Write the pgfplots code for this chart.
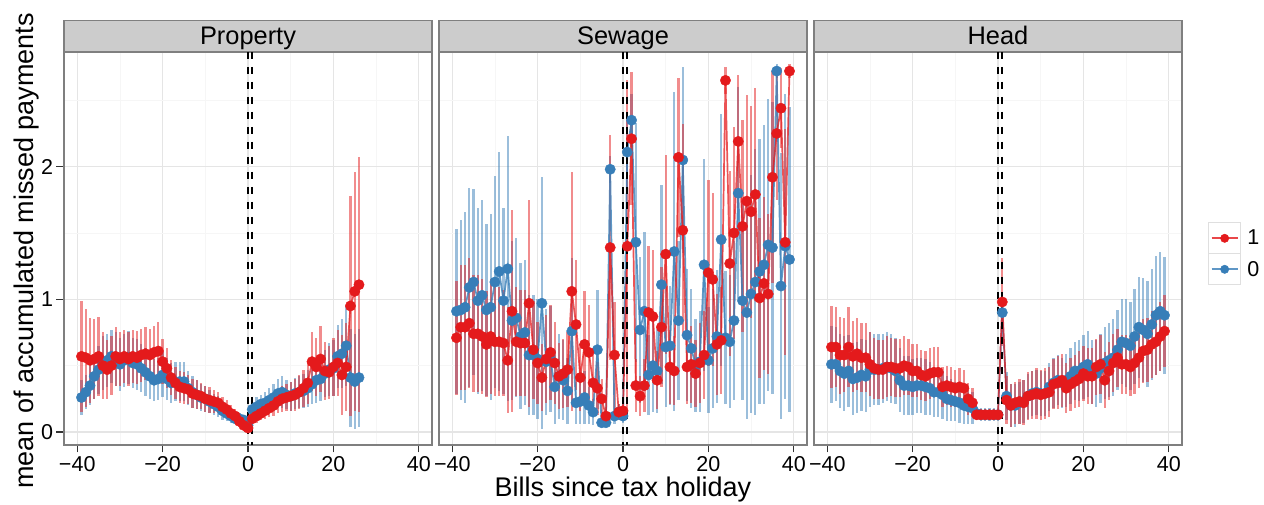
\documentclass[border=0pt]{standalone}
\usepackage{fontspec}
\setmainfont{Liberation Sans}
\usepackage{pgfplots}
\pgfplotsset{compat=1.18}
\usepackage{pgfplotstable}
\definecolor{cR}{HTML}{E41A1C}
\definecolor{cB}{HTML}{377EB8}
\definecolor{gridmaj}{HTML}{E5E5E5}
\definecolor{gridmin}{HTML}{F6F6F6}
\definecolor{bord}{HTML}{7F7F7F}
\definecolor{stripc}{HTML}{CCCCCC}

\pgfplotstableread{
x y e
-39 .57 .42
-38 .56 .37
-37 .54 .32
-36 .55 .30
-35 .57 .30
-34 .50 .25
-33 .47 .22
-32 .50 .22
-31 .57 .22
-30 .55 .20
-29 .57 .20
-28 .55 .20
-27 .57 .20
-26 .56 .20
-25 .58 .20
-24 .59 .20
-23 .58 .20
-22 .60 .20
-21 .61 .22
-20 .53 .17
-19 .48 .15
-18 .41 .13
-17 .37 .12
-16 .34 .12
-15 .33 .12
-14 .32 .11
-13 .29 .11
-12 .28 .11
-11 .27 .10
-10 .25 .10
-9 .24 .10
-8 .23 .09
-7 .22 .08
-6 .19 .07
-5 .17 .07
-4 .14 .06
-3 .12 .05
-2 .08 .04
-1 .05 .03
0 .03 .02
1 .10 .04
2 .12 .05
3 .14 .05
4 .16 .06
5 .18 .07
6 .20 .08
7 .23 .09
8 .25 .10
9 .26 .10
10 .27 .11
11 .28 .12
12 .30 .13
13 .33 .14
14 .37 .16
15 .53 .22
16 .49 .22
17 .55 .25
18 .46 .22
19 .45 .20
20 .49 .22
21 .52 .25
22 .43 .30
23 .49 .33
24 .95 .83
25 1.06 .90
26 1.11 .96
}\propR

\pgfplotstableread{
x y e
-39 .26 .13
-38 .30 .13
-37 .35 .15
-36 .42 .17
-35 .47 .18
-34 .52 .20
-33 .54 .20
-32 .57 .20
-31 .55 .20
-30 .51 .20
-29 .54 .20
-28 .56 .20
-27 .52 .19
-26 .51 .19
-25 .48 .18
-24 .45 .18
-23 .42 .17
-22 .39 .16
-21 .40 .16
-20 .43 .17
-19 .40 .16
-18 .37 .15
-17 .38 .15
-16 .38 .15
-15 .38 .15
-14 .33 .13
-13 .30 .12
-12 .28 .11
-11 .26 .10
-10 .25 .10
-9 .23 .09
-8 .21 .08
-7 .19 .08
-6 .16 .07
-5 .14 .06
-4 .12 .05
-3 .10 .04
-2 .10 .04
-1 .09 .04
0 .05 .02
1 .17 .06
2 .19 .07
3 .21 .07
4 .22 .08
5 .24 .09
6 .26 .10
7 .29 .11
8 .30 .12
9 .28 .11
10 .27 .11
11 .29 .12
12 .30 .12
13 .31 .13
14 .33 .14
15 .36 .15
16 .39 .17
17 .40 .17
18 .44 .18
19 .47 .20
20 .48 .21
21 .57 .24
22 .59 .26
23 .65 .30
24 .41 .37
25 .38 .36
26 .41 .37
}\propB

\pgfplotstableread{
x y e
-39 .71 .43
-38 .79 .47
-37 .79 .47
-36 .82 .49
-35 .74 .44
-34 .74 .44
-33 .72 .43
-32 .66 .40
-31 .72 .43
-30 .68 .41
-29 .68 .41
-28 .67 .40
-27 .54 .40
-26 .91 .76
-25 .68 .41
-24 .67 .40
-23 .67 .40
-22 .97 .78
-21 .62 .37
-20 .52 .31
-19 .41 .25
-18 .55 .33
-17 .60 .36
-16 .52 .31
-15 .42 .25
-14 .44 .26
-13 .47 .28
-12 1.06 .90
-11 .81 .49
-10 .41 .25
-9 .66 .40
-8 .60 .36
-7 .37 .22
-6 .33 .20
-5 .25 .15
-4 .12 .07
-3 1.39 .85
-2 .58 .40
-1 .15 .06
0 .16 .06
1 1.40 1.25
2 2.21 .50
3 .35 .20
4 .27 .15
5 .35 .20
6 .90 .50
7 .87 .50
8 .39 .22
9 .79 .45
10 1.34 .75
11 .49 .28
12 .46 .26
13 2.07 .60
14 1.52 .80
15 .49 .28
16 .51 .29
17 .44 .25
18 .52 .30
19 .58 .33
20 1.20 .70
21 1.15 .65
22 .66 .38
23 .69 .40
24 2.65 .10
25 1.27 .70
26 1.50 .80
27 2.19 .50
28 1.55 .80
29 1.74 .80
30 1.66 .80
31 1.79 .80
32 1.01 .60
33 1.12 .65
34 1.04 .60
35 1.92 .80
36 2.25 .50
37 2.44 .30
38 1.43 .85
39 2.72 .05
}\sewR

\pgfplotstableread{
x y e
-39 .91 .62
-38 .92 .68
-37 .94 .72
-36 1.09 .75
-35 1.13 .70
-34 .99 .70
-33 1.03 .72
-32 .92 .65
-31 .94 .70
-30 1.13 .80
-29 1.21 .90
-28 .99 .70
-27 1.23 1.00
-26 .84 .60
-25 .86 .60
-24 .72 .55
-23 .75 .55
-22 .58 .45
-21 .58 .45
-20 .55 .45
-19 .97 .95
-18 .53 .40
-17 .55 .40
-16 .34 .28
-15 .42 .32
-14 .39 .30
-13 .31 .25
-12 .76 .55
-11 .22 .16
-10 .23 .17
-9 .26 .20
-8 .20 .14
-7 .15 .10
-6 .62 .45
-5 .07 .03
-4 .07 .03
-3 1.98 .10
-2 .12 .06
-1 .15 .06
0 .12 .05
1 2.11 .30
2 2.35 .20
3 1.43 .90
4 .77 .55
5 .91 .60
6 .43 .30
7 .50 .35
8 .46 .32
9 1.11 .75
10 .64 .45
11 .65 .45
12 1.36 1.20
13 .84 .60
14 2.05 .70
15 .73 .50
16 .63 .45
17 .50 .35
18 .53 .38
19 1.26 .80
20 .54 .40
21 .63 .45
22 .72 .50
23 1.45 .95
24 .71 .50
25 .68 .50
26 .84 .60
27 1.80 .80
28 .99 .75
29 .90 .80
30 1.04 .90
31 1.13 1.00
32 1.21 1.00
33 1.26 1.05
34 1.41 1.10
35 1.39 1.10
36 2.72 .05
37 1.10 1.00
38 1.40 1.15
39 1.30 1.15
}\sewB

\pgfplotstableread{
x y e
-39 .64 .31
-38 .64 .30
-37 .58 .29
-36 .58 .28
-35 .64 .30
-34 .57 .27
-33 .59 .27
-32 .56 .26
-31 .56 .26
-30 .51 .24
-29 .48 .23
-28 .47 .22
-27 .47 .22
-26 .49 .23
-25 .49 .22
-24 .48 .22
-23 .48 .22
-22 .50 .22
-21 .49 .21
-20 .46 .20
-19 .46 .20
-18 .43 .19
-17 .42 .19
-16 .44 .19
-15 .45 .19
-14 .45 .19
-13 .34 .15
-12 .35 .15
-11 .34 .15
-10 .33 .14
-9 .34 .14
-8 .33 .14
-7 .25 .12
-6 .22 .11
-5 .13 .02
-4 .13 .01
-3 .13 .01
-2 .13 .01
-1 .13 .01
0 .13 .01
1 .98 .33
2 .24 .18
3 .20 .16
4 .22 .16
5 .23 .17
6 .22 .17
7 .27 .18
8 .28 .18
9 .29 .19
10 .28 .19
11 .29 .19
12 .30 .19
13 .36 .19
14 .37 .20
15 .39 .20
16 .33 .19
17 .36 .20
18 .38 .20
19 .40 .21
20 .44 .21
21 .42 .21
22 .42 .21
23 .49 .21
24 .51 .22
25 .39 .21
26 .46 .22
27 .52 .22
28 .56 .22
29 .51 .22
30 .51 .22
31 .49 .22
32 .52 .23
33 .56 .23
34 .61 .24
35 .62 .24
36 .66 .25
37 .68 .25
38 .72 .26
39 .76 .27
}\headR

\pgfplotstableread{
x y e
-39 .51 .29
-38 .51 .28
-37 .46 .28
-36 .44 .28
-35 .46 .27
-34 .40 .27
-33 .41 .27
-32 .43 .27
-31 .42 .27
-30 .47 .28
-29 .47 .27
-28 .47 .27
-27 .48 .26
-26 .49 .26
-25 .48 .26
-24 .46 .25
-23 .39 .24
-22 .35 .22
-21 .35 .22
-20 .34 .21
-19 .35 .21
-18 .35 .21
-17 .34 .21
-16 .33 .20
-15 .30 .19
-14 .30 .19
-13 .28 .18
-12 .25 .17
-11 .24 .16
-10 .23 .15
-9 .22 .15
-8 .20 .14
-7 .19 .13
-6 .18 .12
-5 .14 .05
-4 .13 .05
-3 .13 .05
-2 .13 .05
-1 .13 .05
0 .13 .05
1 .90 .10
2 .27 .18
3 .20 .16
4 .20 .16
5 .22 .16
6 .23 .16
7 .27 .17
8 .29 .17
9 .30 .17
10 .29 .17
11 .29 .17
12 .34 .18
13 .37 .19
14 .39 .19
15 .37 .19
16 .39 .20
17 .42 .21
18 .46 .22
19 .46 .23
20 .49 .24
21 .51 .25
22 .45 .24
23 .44 .25
24 .48 .26
25 .52 .27
26 .54 .28
27 .56 .29
28 .62 .30
29 .68 .32
30 .67 .33
31 .65 .33
32 .72 .36
33 .79 .38
34 .77 .39
35 .74 .40
36 .81 .42
37 .88 .45
38 .91 .45
39 .88 .44
}\headB

\pgfplotsset{
  panel/.style={
    scale only axis, width=368pt, height=393pt, anchor=south west,
    xmin=-43.1, xmax=43.1, ymin=-0.098, ymax=2.864,
    xtick={-40,-20,0,20,40}, xticklabels={−40,−20,0,20,40},
    minor xtick={-30,-10,10,30},
    ytick={0,1,2}, minor ytick={0.5,1.5,2.5},
    grid=both,
    major grid style={gridmaj, line width=1.3pt},
    minor grid style={gridmin, line width=0.7pt},
    axis line style={bord, line width=1.3pt},
    tick align=outside, tick pos=left,
    major tick length=7.5pt, minor tick length=0pt,
    tick style={black!80, line width=1.3pt},
    ticklabel style={font=\fontsize{21.5}{24}\selectfont, text=black},
    every axis title shift=0pt,
    title style={at={(0.5,1)}, anchor=south, fill=stripc, draw=bord, line width=1.3pt,
      inner sep=0pt, minimum width=368pt, minimum height=31pt,
      text height=18.2pt, text depth=0pt, font=\fontsize{25.4}{30}\selectfont},
    clip=true,
  },
  errR/.style={only marks, mark=none, forget plot, error bars/.cd, y dir=both, y explicit,
    error mark=none, error bar style={cR, line width=2.3pt, opacity=0.5, solid}},
  errB/.style={only marks, mark=none, forget plot, error bars/.cd, y dir=both, y explicit,
    error mark=none, error bar style={cB, line width=2.3pt, opacity=0.5, solid}},
}

\newcommand{\panelplots}[2]{%
  \addplot[errB] table[x=x,y=y,y error=e] {#2};
  \addplot[errR] table[x=x,y=y,y error=e] {#1};
  \addplot[cB, line width=1.7pt, opacity=0.8, mark=none, forget plot] table[x=x,y=y] {#2};
  \addplot[cR, line width=1.7pt, opacity=0.75, mark=none, forget plot] table[x=x,y=y] {#1};
  \addplot[color=cB, only marks, mark=*, mark size=5.2pt, forget plot] table[x=x,y=y] {#2};
  \addplot[color=cR, only marks, mark=*, mark size=5.2pt, forget plot] table[x=x,y=y] {#1};
  \addplot[black, line width=2pt, dash pattern=on 7.5pt off 7.5pt, mark=none, forget plot] coordinates {(0,2.864) (0,-0.098)};
  \addplot[black, line width=2pt, dash pattern=on 7.5pt off 7.5pt, mark=none, forget plot] coordinates {(1,2.864) (1,-0.098)};
}

\begin{document}
\begin{tikzpicture}
\useasboundingbox (0pt,0pt) rectangle (1264pt,505pt);

\begin{axis}[panel, at={(64pt,60pt)}, title={Property}, yticklabels={0,1,2}]
\panelplots{\propR}{\propB}
\end{axis}

\begin{axis}[panel, at={(439pt,60pt)}, title={Sewage}, yticklabels={}, ytick style={draw=none}]
\panelplots{\sewR}{\sewB}
\end{axis}

\begin{axis}[panel, at={(814pt,60pt)}, title={Head}, yticklabels={}, ytick style={draw=none},
  legend style={at={(1.0707,0.567)}, anchor=north west, draw=none, fill=none,
    inner sep=0pt, outer sep=0pt, row sep=-1.3pt,
    font=\fontsize{21.5}{24}\selectfont,
    nodes={inner sep=0pt, anchor=west},
    /tikz/every odd column/.append style={column sep=6pt}},
  legend cell align=left,
  legend image code/.code={
    \draw[draw=gray!25, fill=white, line width=1.3pt, opacity=1] (0pt,-15.5pt) rectangle (32pt,15.5pt);
    \draw[line width=1.7pt, opacity=0.8] (3pt,0pt) -- (29pt,0pt);
    \fill (16pt,0pt) circle (4.2pt);
  }]
\addlegendimage{cR}
\addlegendentry{1}
\addlegendimage{cB}
\addlegendentry{0}
\panelplots{\headR}{\headB}
\end{axis}

\node[rotate=90, anchor=base, font=\fontsize{27}{32}\selectfont] at (33.3pt,254pt) {mean of accumulated missed payments};
\node[anchor=base, font=\fontsize{27}{32}\selectfont] at (623pt,8pt) {Bills since tax holiday};
\end{tikzpicture}
\end{document}
